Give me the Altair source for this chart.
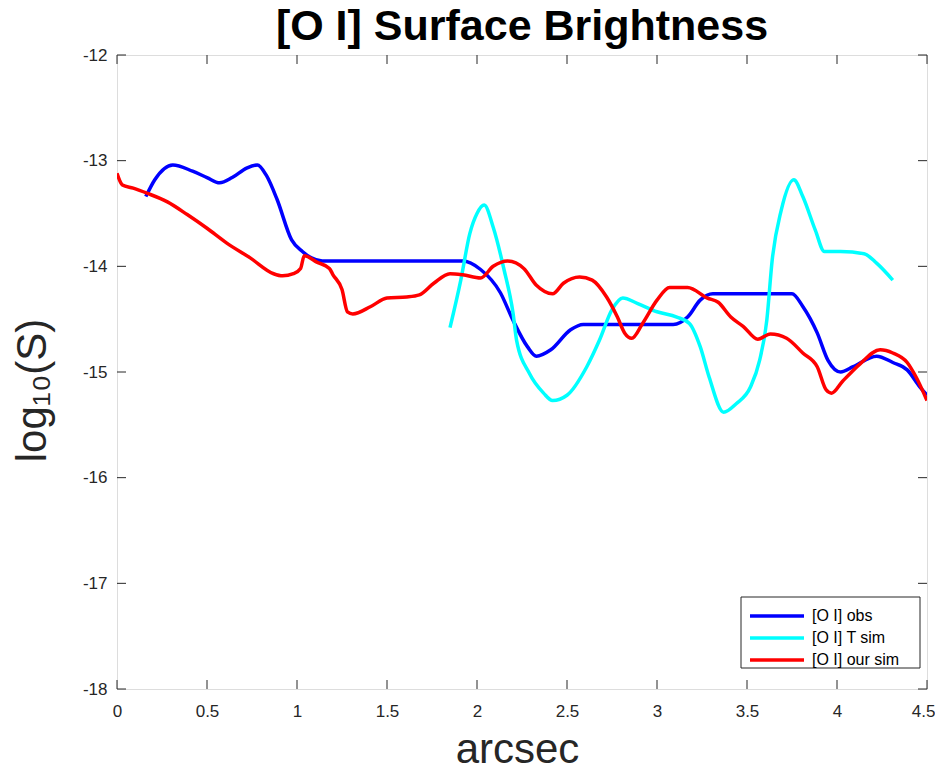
import altair as alt
import pandas as pd

# ---- data ----
obs_x = [0.16, 0.21, 0.31, 0.42, 0.50, 0.57, 0.64, 0.72, 0.78, 0.83, 0.89, 0.97,
         1.03, 1.08, 1.14, 1.25, 1.50, 1.75, 1.92, 2.02, 2.13, 2.20, 2.28, 2.33,
         2.41, 2.52, 2.59, 2.80, 3.09, 3.17, 3.24, 3.31, 3.50, 3.75, 3.81, 3.89,
         3.95, 4.02, 4.09, 4.22, 4.31, 4.39, 4.46, 4.50]
obs_y = [-13.34, -13.18, -13.04, -13.10, -13.16, -13.21, -13.16, -13.07, -13.04,
         -13.14, -13.37, -13.75, -13.86, -13.92, -13.95, -13.95, -13.95, -13.95,
         -13.95, -14.03, -14.25, -14.51, -14.76, -14.85, -14.79, -14.60, -14.55,
         -14.55, -14.55, -14.48, -14.32, -14.26, -14.26, -14.26, -14.38, -14.63,
         -14.89, -15.00, -14.95, -14.85, -14.91, -14.98, -15.14, -15.22]

tsim_x = [1.85, 1.91, 1.96, 2.00, 2.04, 2.09, 2.15, 2.20, 2.22, 2.29, 2.37, 2.42,
          2.50, 2.61, 2.68, 2.75, 2.81, 2.89, 3.00, 3.11, 3.18, 3.24, 3.29, 3.37,
          3.44, 3.52, 3.57, 3.61, 3.64, 3.69, 3.76, 3.81, 3.88, 3.93, 4.02, 4.15,
          4.22, 4.31]
tsim_y = [-14.58, -14.13, -13.69, -13.50, -13.42, -13.63, -14.03, -14.44, -14.70,
          -15.01, -15.20, -15.27, -15.22, -14.95, -14.70, -14.41, -14.30, -14.35,
          -14.43, -14.48, -14.54, -14.76, -15.05, -15.38, -15.30, -15.14, -14.89,
          -14.51, -13.94, -13.47, -13.18, -13.34, -13.66, -13.86, -13.86, -13.88,
          -13.97, -14.13]

our_x = [0.00, 0.03, 0.09, 0.17, 0.28, 0.39, 0.50, 0.61, 0.74, 0.87, 0.92, 0.98,
         1.02, 1.04, 1.11, 1.18, 1.20, 1.25, 1.28, 1.31, 1.41, 1.50, 1.61, 1.68,
         1.76, 1.85, 1.92, 2.02, 2.09, 2.17, 2.26, 2.33, 2.42, 2.48, 2.57, 2.64,
         2.72, 2.78, 2.82, 2.86, 2.92, 3.00, 3.07, 3.17, 3.28, 3.34, 3.41, 3.48,
         3.56, 3.63, 3.72, 3.81, 3.89, 3.94, 3.97, 4.03, 4.13, 4.24, 4.31, 4.39,
         4.44, 4.50]
our_y = [-13.12, -13.23, -13.26, -13.31, -13.39, -13.51, -13.64, -13.78, -13.92,
         -14.07, -14.09, -14.07, -14.02, -13.90, -13.96, -14.02, -14.08, -14.22,
         -14.43, -14.45, -14.38, -14.30, -14.29, -14.27, -14.16, -14.07, -14.08,
         -14.11, -14.00, -13.95, -14.02, -14.18, -14.26, -14.16, -14.10, -14.13,
         -14.29, -14.48, -14.63, -14.68, -14.54, -14.32, -14.20, -14.20, -14.30,
         -14.34, -14.48, -14.57, -14.69, -14.64, -14.68, -14.82, -14.95, -15.17,
         -15.20, -15.09, -14.92, -14.79, -14.82, -14.91, -15.05, -15.27]

series_names = ["[O I] obs", "[O I] T sim", "[O I] our sim"]
series_colors = ["#0000ff", "#00ffff", "#ff0000"]

x_ticks = [0, 0.5, 1, 1.5, 2, 2.5, 3, 3.5, 4, 4.5]
y_ticks = [-18, -17, -16, -15, -14, -13, -12]

# ---- build table ----
rows = []
for name, xs, ys in zip(series_names, [obs_x, tsim_x, our_x], [obs_y, tsim_y, our_y]):
    for i, (a, b) in enumerate(zip(xs, ys)):
        rows.append({"series": name, "x": a, "y": b, "i": i})
df = pd.DataFrame(rows)

W, H = 810, 634
FONT = "Liberation Sans"
AX = "#262626"

xscale = alt.Scale(domain=[0, 4.5], nice=False, zero=False)
yscale = alt.Scale(domain=[-18, -12], nice=False, zero=False)

last_x = "datum.value == 4.5"
x_axis = alt.Axis(values=x_ticks, labelExpr="'' + datum.value", title="arcsec",
                  ticks=False, domain=False, grid=False, labelFontSize=17,
                  labelFont=FONT, labelColor=AX, labelPadding=14,
                  labelAlign={"condition": {"test": last_x, "value": "right"}, "value": "center"},
                  labelOffset={"condition": {"test": last_x, "value": 8}, "value": 0},
                  titleFontSize=42, titleFont=FONT, titleFontWeight="normal",
                  titleColor=AX, titleBaseline="alphabetic", titleY=73,
                  titleX=400, titleAlign="center")
y_axis = alt.Axis(values=y_ticks, labelExpr="'' + datum.value", title="log₁₀(S)",
                  ticks=False, domain=False, grid=False, labelFontSize=17,
                  labelFont=FONT, labelColor=AX, labelPadding=10,
                  titleFontSize=42, titleFont=FONT, titleFontWeight="normal",
                  titleColor=AX, titleBaseline="alphabetic", titleX=-72,
                  titleY=335, titleAlign="center", titleAngle=270)

lines = alt.Chart(df).mark_line(strokeWidth=3.5, interpolate="monotone", clip=True).encode(
    x=alt.X("x:Q", scale=xscale, axis=x_axis),
    y=alt.Y("y:Q", scale=yscale, axis=y_axis),
    color=alt.Color("series:N",
                    scale=alt.Scale(domain=series_names, range=series_colors),
                    legend=alt.Legend(title=None, orient="none", legendX=626, legendY=545,
                                      symbolType="M-1,0H5", symbolSize=324,
                                      symbolStrokeWidth=3.5, labelOffset=42,
                                      labelFontSize=16, labelFont=FONT, labelColor="black",
                                      padding=5, rowPadding=3)),
    detail="series:N",
    order="i:Q",
)

# legend frame (layout only)
frame = alt.Chart(pd.DataFrame({"k": [0]})).mark_rect(
    fill="white", stroke=AX, strokeWidth=1).encode(
    x=alt.value(624), x2=alt.value(803), y=alt.value(542), y2=alt.value(613))

xt = pd.DataFrame({"x": x_ticks})
yt = pd.DataFrame({"y": y_ticks})

bottom_ticks = alt.Chart(xt).mark_rule(color=AX, strokeWidth=1).encode(
    x=alt.X("x:Q", scale=xscale, axis=x_axis), y=alt.value(H), y2=alt.value(H - 9))
top_ticks = alt.Chart(xt).mark_rule(color=AX, strokeWidth=1).encode(
    x=alt.X("x:Q", scale=xscale, axis=x_axis), y=alt.value(0), y2=alt.value(9))
left_ticks = alt.Chart(yt).mark_rule(color=AX, strokeWidth=1).encode(
    y=alt.Y("y:Q", scale=yscale, axis=y_axis), x=alt.value(0), x2=alt.value(9))
right_ticks = alt.Chart(yt).mark_rule(color=AX, strokeWidth=1).encode(
    y=alt.Y("y:Q", scale=yscale, axis=y_axis), x=alt.value(W), x2=alt.value(W - 9))

chart = alt.layer(lines, frame, bottom_ticks, top_ticks, left_ticks, right_ticks).properties(
    width=W, height=H,
    title=alt.TitleParams("[O I] Surface Brightness", fontSize=43, fontWeight="bold",
                          font=FONT, color="black", offset=8, dy=11, anchor="middle"),
    padding={"left": 109, "top": 47, "right": 8, "bottom": 78},
    autosize=alt.AutoSizeParams(type="none"),
).configure_view(stroke=AX, strokeWidth=1).configure(background="white")

chart.save("out.html", embed_options={"renderer": "svg", "actions": False})
